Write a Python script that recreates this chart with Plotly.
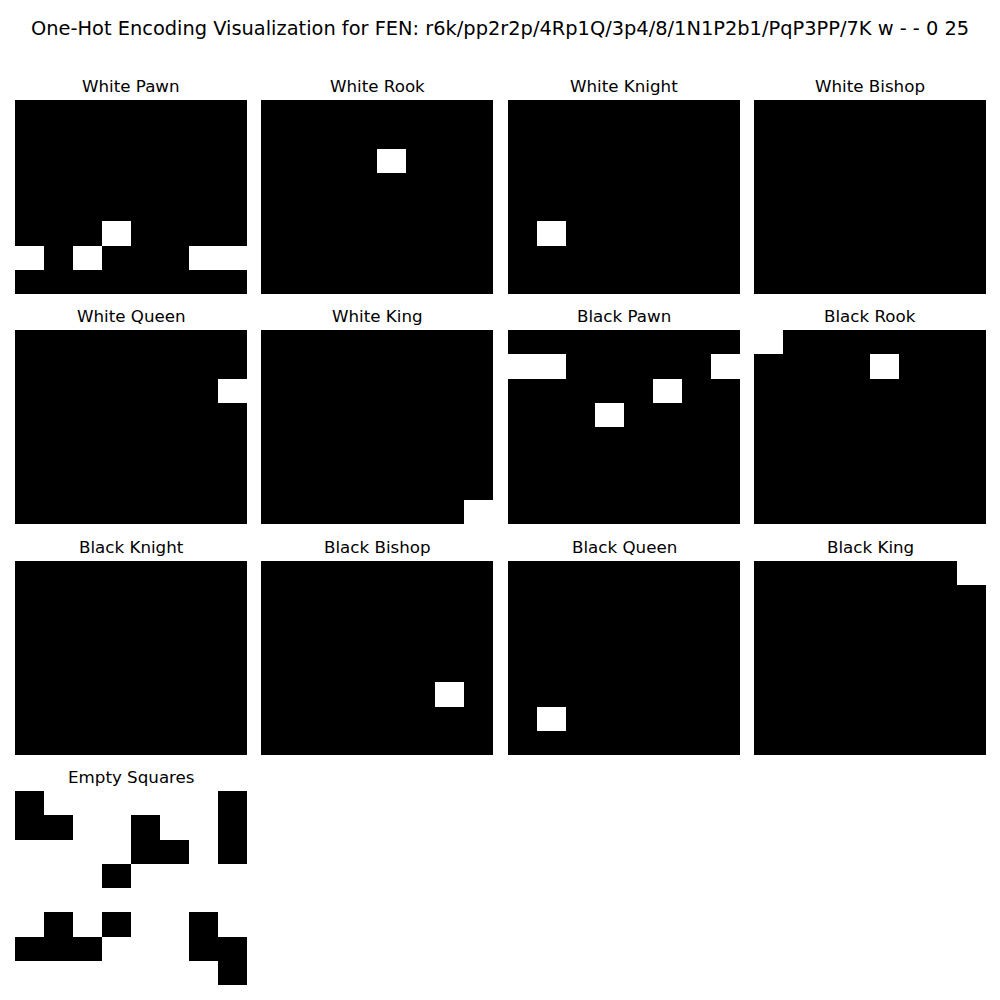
import plotly.graph_objects as go

FEN = "r6k/pp2r2p/4Rp1Q/3p4/8/1N1P2b1/PqP3PP/7K w - - 0 25"

# Board squares (rank 8 at top), "." = empty
board_rows = [
    "r......k",
    "pp..r..p",
    "....Rp.Q",
    "...p....",
    "........",
    ".N.P..b.",
    "PqP...PP",
    ".......K",
]

piece_codes = ["P", "R", "N", "B", "Q", "K", "p", "r", "n", "b", "q", "k", "."]
panel_titles = ["White Pawn", "White Rook", "White Knight", "White Bishop",
                "White Queen", "White King", "Black Pawn", "Black Rook",
                "Black Knight", "Black Bishop", "Black Queen", "Black King",
                "Empty Squares"]

# panel positions in pixels (left, right) and (top, bottom)
col_px = [(15, 247), (261, 493), (508, 740), (754, 986)]
row_px = [(100, 294), (330, 524), (561, 755), (791, 985)]

W = H = 1000
fig = go.Figure()
layout = dict(
    width=W, height=H,
    margin=dict(l=0, r=0, t=0, b=0),
    paper_bgcolor="white", plot_bgcolor="white",
    showlegend=False,
    font=dict(family="DejaVu Sans", color="black"),
)
annotations = []
for i, (code, title) in enumerate(zip(piece_codes, panel_titles)):
    r, c = divmod(i, 4)
    z = [[1 if ch == code else 0 for ch in row] for row in board_rows]
    n = i + 1
    xa = "x" if n == 1 else f"x{n}"
    ya = "y" if n == 1 else f"y{n}"
    fig.add_trace(go.Heatmap(
        z=z, x=list(range(8)), y=list(range(8)),
        colorscale=[[0, "black"], [1, "white"]], zmin=0, zmax=1,
        showscale=False, xaxis=xa, yaxis=ya, xgap=0, ygap=0,
        hoverinfo="skip",
    ))
    x0, x1 = col_px[c]
    y0, y1 = row_px[r]
    xkey = "xaxis" if n == 1 else f"xaxis{n}"
    ykey = "yaxis" if n == 1 else f"yaxis{n}"
    layout[xkey] = dict(domain=[x0 / W, x1 / W], range=[-0.5, 7.5],
                        visible=False, anchor=ya, fixedrange=True)
    layout[ykey] = dict(domain=[1 - y1 / H, 1 - y0 / H], range=[7.5, -0.5],
                        visible=False, anchor=xa, fixedrange=True)
    annotations.append(dict(
        text=title, x=(x0 + x1) / 2 / W, y=1 - (y0 - 14) / H,
        xref="paper", yref="paper", xanchor="center", yanchor="middle",
        showarrow=False, font=dict(size=16.7, family="DejaVu Sans", color="black"),
    ))

annotations.append(dict(
    text=f"One-Hot Encoding Visualization for FEN: {FEN}",
    x=0.5, y=1 - 28 / H, xref="paper", yref="paper",
    xanchor="center", yanchor="middle", showarrow=False,
    font=dict(size=19.4, family="DejaVu Sans", color="black"),
))
layout["annotations"] = annotations
fig.update_layout(**layout)
fig.write_html("out.html")
